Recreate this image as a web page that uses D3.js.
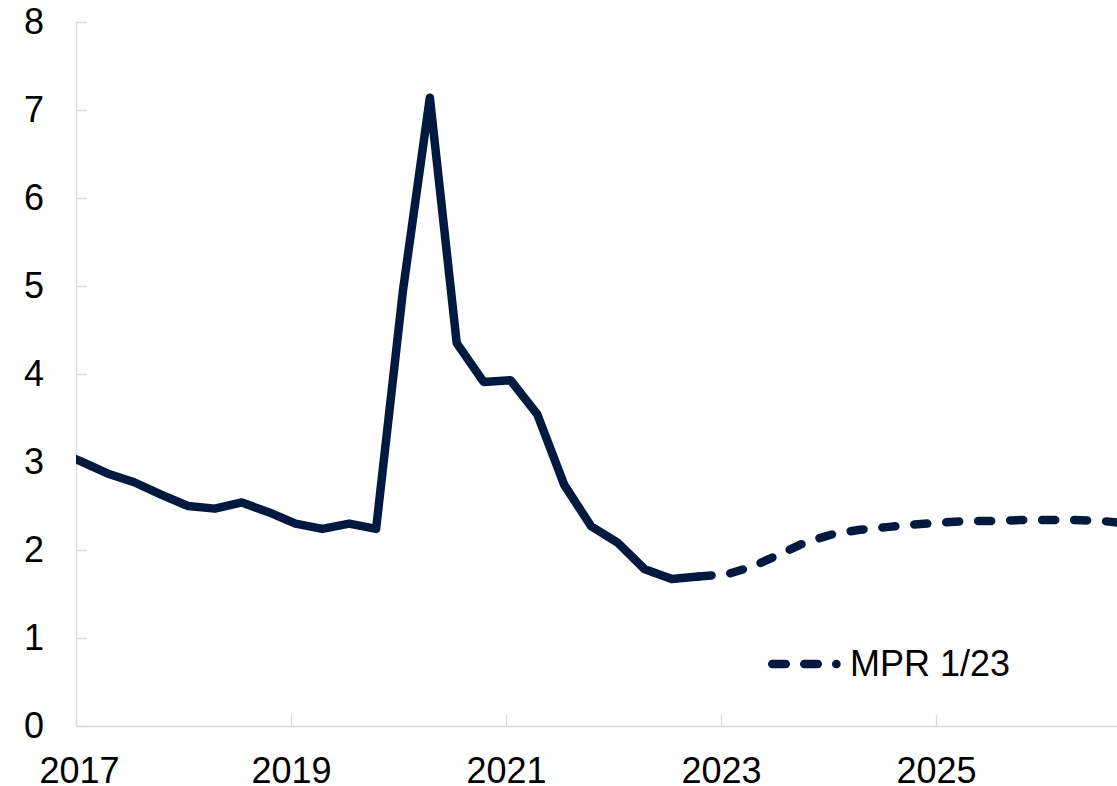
<!DOCTYPE html>
<html>
<head>
<meta charset="utf-8">
<script src="https://cdn.jsdelivr.net/npm/d3@7"></script>
<style>
  body { margin: 0; background: #fff; }
  #chart { width: 1117px; height: 786px; }
  text { font-family: "Liberation Sans", Arial, sans-serif; }
</style>
</head>
<body>
<div id="chart"></div>
<script>
// quarterly data, points sit half a month into each quarter
// actual: first value = 2016Q4 (clipped at the axis)
var actualStart = 2016.75
var actualValues = [
  3.13,
  3.01, 2.87, 2.77, 2.63,
  2.50, 2.47, 2.54, 2.43,
  2.30, 2.24, 2.30, 2.24,
  4.95, 7.14, 4.35, 3.91,
  3.93, 3.54, 2.74, 2.27,
  2.08, 1.78, 1.67, 1.70
]
// forecast: first value = 2022Q4 (joins the actual line)
var forecastStart = 2022.75
var forecastValues = [
  1.70,
  1.72, 1.81, 1.95, 2.09,
  2.18, 2.23, 2.26, 2.29,
  2.31, 2.33, 2.33, 2.34,
  2.34, 2.34, 2.33, 2.30
]
var yTicks = [0, 1, 2, 3, 4, 5, 6, 7, 8]
var xTicks = [2017, 2019, 2021, 2023, 2025]
var legendLabel = "MPR 1/23"

var lineColor = "#001a3f"
var axisColor = "#d9d9d9"
var fontSize = "36px"

var W = 1117, H = 786
var margin = { top: 22, right: 0, bottom: 60, left: 76 }
var width = W - margin.left - margin.right,
    height = 726 - margin.top

var toPoints = function(values, start) {
  return values.map(function(v, i) { return { t: start + i / 4 + 1 / 24, v: v } })
}
var actual = toPoints(actualValues, actualStart)
var forecast = toPoints(forecastValues, forecastStart)

var svg = d3.select("#chart")
  .append("svg")
  .attr("width", W)
  .attr("height", H)
  .append("g")
  .attr("transform", "translate(" + margin.left + "," + margin.top + ")")

// 2 years = 215px on the original
var x = d3.scaleLinear()
  .domain([2017, 2017 + width / 107.5])
  .range([0, width])

var y = d3.scaleLinear()
  .domain([0, 8])
  .range([height, 0])

// Y axis
var yAxis = svg.append("g")
  .attr("class", "yAxis")
  .call(d3.axisLeft(y).tickValues(yTicks).tickSizeInner(-11).tickSizeOuter(0).tickPadding(32))
yAxis.selectAll("path, line").attr("stroke", axisColor).attr("stroke-width", 1.3)
yAxis.selectAll("text").attr("fill", "#000").style("font-size", fontSize)

// X axis
var xAxis = svg.append("g")
  .attr("class", "xAxis")
  .attr("transform", "translate(0," + height + ")")
  .call(d3.axisBottom(x).tickValues(xTicks).tickFormat(d3.format("d")).tickSizeInner(-11).tickSizeOuter(0).tickPadding(31))
xAxis.selectAll("path, line").attr("stroke", axisColor).attr("stroke-width", 1.3)
xAxis.selectAll("text").attr("fill", "#000").style("font-size", fontSize)
xAxis.selectAll(".tick").filter(function(d) { return d === 2017 }).select("text").attr("x", 3)

// clip to the plot area
svg.append("clipPath").attr("id", "plotClip")
  .append("rect").attr("x", 0).attr("y", -20).attr("width", width).attr("height", height + 20)

var line = d3.line()
  .x(function(d) { return x(d.t) })
  .y(function(d) { return y(d.v) })

var lines = svg.append("g").attr("clip-path", "url(#plotClip)")

lines.append("path")
  .datum(actual)
  .attr("d", line)
  .attr("fill", "none")
  .attr("stroke", lineColor)
  .attr("stroke-width", 8.5)
  .attr("stroke-linecap", "round")
  .attr("stroke-linejoin", "round")

lines.append("path")
  .datum(forecast)
  .attr("d", line)
  .attr("fill", "none")
  .attr("stroke", lineColor)
  .attr("stroke-width", 8.5)
  .attr("stroke-linecap", "round")
  .attr("stroke-linejoin", "round")
  .attr("stroke-dasharray", "13,19")

// legend
var legend = svg.append("g")
  .attr("transform", "translate(" + (768 - margin.left) + "," + (664 - margin.top) + ")")
legend.append("line")
  .attr("x1", 4.25).attr("x2", 68.5)
  .attr("y1", 0).attr("y2", 0)
  .attr("stroke", lineColor)
  .attr("stroke-width", 8.5)
  .attr("stroke-linecap", "round")
  .attr("stroke-dasharray", "13.5,18.5")
legend.append("text")
  .attr("x", 82)
  .attr("y", 11.5)
  .attr("fill", "#000")
  .style("font-size", fontSize)
  .text(legendLabel)
</script>
</body>
</html>
